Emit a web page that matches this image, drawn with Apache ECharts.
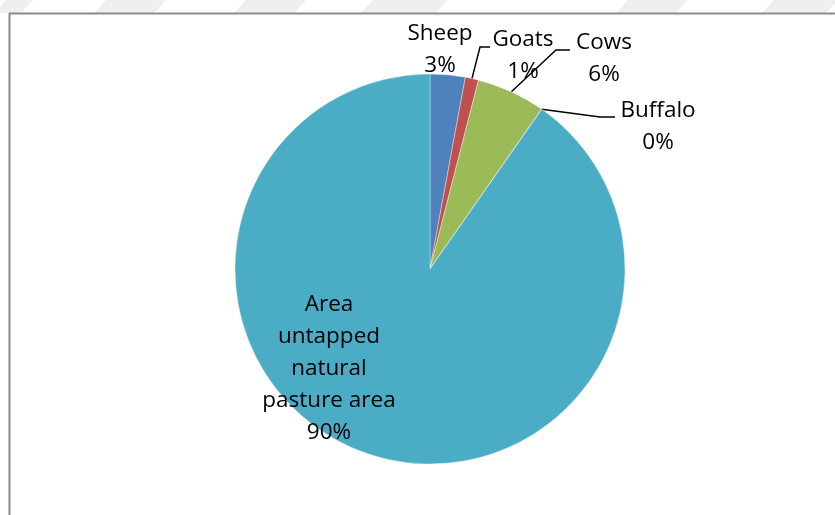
<!DOCTYPE html>
<html><head><meta charset="utf-8">
<script src="https://cdn.jsdelivr.net/npm/echarts@6/dist/echarts.min.js"></script>
<style>html,body{margin:0;padding:0;background:#fff}#c{width:835px;height:515px}</style>
</head><body><div id="c"></div>
<script>
const categories = ['Sheep', 'Goats', 'Cows', 'Buffalo', 'Area\nuntapped\nnatural\npasture area'];
const values = [2.9, 1.1, 5.7, 0.02, 90.28];
const colors = ['#4F81BD', '#C0504D', '#9BBB59', '#8064A2', '#4BACC6'];

// label placement (style, not data)
const labelPos = [
  { x: 440, y: 50, line: null },
  { x: 523, y: 56, line: [[480, 47], [490, 47]] },
  { x: 604, y: 59, line: [[556, 50], [570, 50]] },
  { x: 658, y: 127, line: [[600, 117], [615, 117]] },
  { x: 329, y: 369, line: null }
];
// faint watermark bands above the frame (decoration)
const bands = [[0, 27], [100, 160], [240, 300], [367, 442], [622, 682], [768, 832]];

const chart = echarts.init(document.getElementById('c'), null, { renderer: 'canvas' });
const font = "'Open Sans', sans-serif";
const graphics = bands.map(b => ({
  type: 'polygon', silent: true,
  shape: { points: [[b[0] + 6, 0], [b[1] + 6, 0], [b[1] - 6, 13], [b[0] - 6, 13]] },
  style: { fill: '#efefef' }
}));
graphics.push(
  { type: 'line', shape: { x1: 9, y1: 13.5, x2: 835, y2: 13.5 }, style: { stroke: '#8c8c8c', lineWidth: 2 } },
  { type: 'line', shape: { x1: 9.5, y1: 13, x2: 9.5, y2: 515 }, style: { stroke: '#8c8c8c', lineWidth: 2 } }
);
chart.setOption({
  animation: false,
  backgroundColor: '#fff',
  graphic: graphics,
  series: [{
    type: 'pie',
    center: [430, 269],
    radius: [0, 195],
    startAngle: 90,
    clockwise: true,
    avoidLabelOverlap: false,
    minAngle: 0,
    data: categories.map((n, i) => ({
      name: n, value: values[i],
      itemStyle: { color: colors[i] },
      labelLine: { show: !!labelPos[i].line }
    })),
    itemStyle: { borderColor: 'rgba(255,255,255,0.6)', borderWidth: 0.6 },
    label: {
      show: true,
      position: 'outside',
      formatter: p => p.name + '\n' + Math.round(p.percent) + '%',
      fontFamily: font,
      fontSize: 22.5,
      lineHeight: 32,
      color: '#000',
      align: 'center'
    },
    labelLine: { show: true, lineStyle: { color: '#000', width: 1.5 }, length: 10, length2: 10 },
    labelLayout: function (params) {
      const lp = labelPos[params.dataIndex];
      const out = { x: lp.x, y: lp.y, align: 'center', verticalAlign: 'middle' };
      if (lp.line && params.labelLinePoints) {
        out.labelLinePoints = [params.labelLinePoints[0], lp.line[0], lp.line[1]];
      }
      return out;
    }
  }]
});
</script></body></html>
